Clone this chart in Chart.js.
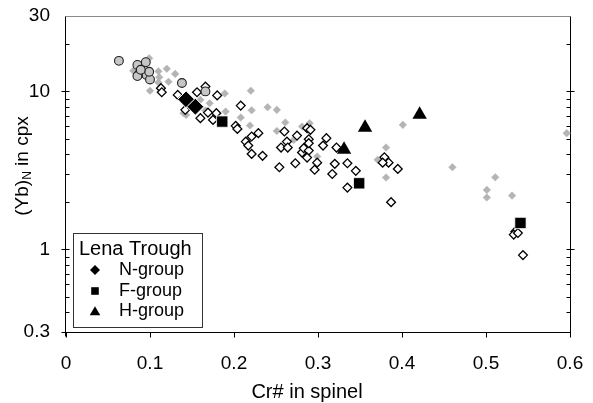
<!DOCTYPE html>
<html>
<head>
<meta charset="utf-8">
<script src="https://cdn.jsdelivr.net/npm/chart.js@4.4.1/dist/chart.umd.min.js"></script>
<style>
	html, body { margin: 0; padding: 0; background: #fff; }
	canvas { display: block; }
</style>
</head>
<body>
<canvas id="chart" width="593" height="403"></canvas>
<script>
// axis ticks
const xTicks = [0, 0.1, 0.2, 0.3, 0.4, 0.5, 0.6];
const xTickLabels = [`0`, `0.1`, `0.2`, `0.3`, `0.4`, `0.5`, `0.6`];
const yTicks = [0.3, 1, 10, 30];
const yTickLabels = [`0.3`, `1`, `10`, `30`];
const yMinorTicks = [0.4, 0.5, 0.6, 0.7, 0.8, 0.9, 2, 3, 4, 5, 6, 7, 8, 9, 20];

// other abyssal peridotites (small grey diamonds)
const greyX = [0.099, 0.080, 0.110, 0.120, 0.130, 0.111, 0.122, 0.110, 0.100, 0.155,
	0.189, 0.220, 0.221, 0.190, 0.166, 0.140, 0.208, 0.219, 0.240, 0.251,
	0.261, 0.251, 0.281, 0.290, 0.299, 0.401, 0.381, 0.371, 0.381, 0.143,
	0.460, 0.511, 0.501, 0.501, 0.531, 0.596, 0.160, 0.171, 0.271];
const greyY = [16.2, 13.5, 13.4, 13.9, 12.9, 12.3, 11.5, 11.4, 10.1, 9.9,
	9.7, 10.1, 7.6, 7.45, 7.56, 7.28, 6.83, 6.08, 7.94, 7.64,
	6.35, 5.62, 5.99, 6.29, 3.87, 6.14, 4.41, 3.69, 2.85, 7.10,
	3.31, 2.86, 2.38, 2.13, 2.19, 5.44, 8.84, 8.42, 4.93];

// open diamonds
const openX = [0.113, 0.114, 0.133, 0.142, 0.156, 0.166, 0.180, 0.169, 0.160, 0.175,
	0.179, 0.208, 0.202, 0.204, 0.214, 0.221, 0.229, 0.217, 0.221, 0.234,
	0.260, 0.275, 0.263, 0.256, 0.264, 0.254, 0.273, 0.281, 0.283, 0.289,
	0.287, 0.287, 0.291, 0.289, 0.289, 0.310, 0.306, 0.322, 0.299, 0.296,
	0.320, 0.317, 0.335, 0.345, 0.335, 0.379, 0.384, 0.377, 0.395, 0.387,
	0.535, 0.533, 0.538, 0.544];
const openY = [10.48, 9.88, 9.50, 7.64, 9.88, 10.72, 9.43, 7.34, 6.77, 6.60,
	7.28, 8.13, 6.05, 5.79, 4.81, 5.18, 5.44, 4.54, 4.02, 3.91,
	5.57, 5.25, 4.81, 4.41, 4.41, 3.31, 3.51, 4.10, 4.37, 4.22,
	3.81, 5.85, 5.71, 4.98, 4.70, 5.06, 4.54, 4.41, 3.54, 3.19,
	3.48, 3.00, 3.51, 3.14, 2.46, 3.83, 3.54, 3.54, 3.23, 1.99,
	1.30, 1.24, 1.27, 0.92];

// grey circles
const circleX = [0.063, 0.085, 0.095, 0.087, 0.096, 0.100, 0.085, 0.099, 0.138, 0.166, 0.089];
const circleY = [15.6, 14.7, 15.3, 12.9, 12.7, 11.9, 12.5, 13.3, 11.3, 10.0, 13.7];

// Lena Trough
const nGroupX = [0.143, 0.154];
const nGroupY = [8.9, 8.0];
const fGroupX = [0.186, 0.349, 0.541];
const fGroupY = [6.44, 2.62, 1.47];
const hGroupX = [0.331, 0.356, 0.421];
const hGroupY = [4.28, 5.9, 7.13];

const legendTitle = `Lena Trough`;
const legendLabels = [`N-group`, `F-group`, `H-group`];
const xTitle = `Cr# in spinel`;

const FONT = `"Liberation Sans", Arial, sans-serif`;
const toPoints = (xs, ys) => xs.map((x, i) => ({x: x, y: ys[i]}));

function symbolPath(ctx, style, x, y, r) {
	ctx.beginPath();
	if (style === `rectRot`) {
		ctx.moveTo(x - r, y); ctx.lineTo(x, y - r); ctx.lineTo(x + r, y); ctx.lineTo(x, y + r);
	} else if (style === `rect`) {
		ctx.rect(x - r, y - r, 2 * r, 2 * r);
	} else {
		ctx.moveTo(x, y - r); ctx.lineTo(x + r * 1.1, y + r * 0.9); ctx.lineTo(x - r * 1.1, y + r * 0.9);
	}
	ctx.closePath();
}

// no label overflow padding, the layout padding sets the plot box
function noOverflow(scale) {
	scale.paddingLeft = 0;
	scale.paddingRight = 0;
	scale.paddingTop = 0;
	scale.paddingBottom = 0;
}

const framePlugin = {
	id: `frame`,
	beforeDatasetsDraw(chart) {
		const {ctx} = chart;
		const xs = chart.scales.x, ys = chart.scales.y;
		const L = Math.round(xs.left) - 0.5, R = Math.round(xs.right) + 0.5;
		const T = Math.round(ys.top) + 0.5, B = Math.round(ys.bottom) + 0.5;
		ctx.save();
		ctx.lineWidth = 1;
		ctx.strokeStyle = `#8a8a8a`;
		ctx.beginPath(); ctx.moveTo(L, T); ctx.lineTo(R, T); ctx.stroke();
		ctx.strokeStyle = `#000`;
		ctx.beginPath();
		ctx.moveTo(L, T); ctx.lineTo(L, B + 4);
		ctx.moveTo(R, T); ctx.lineTo(R, B + 4);
		ctx.moveTo(L - 4, B); ctx.lineTo(R, B);
		xTicks.forEach(v => {
			const px = Math.round(xs.getPixelForValue(v)) + 0.5;
			ctx.moveTo(px, B); ctx.lineTo(px, B + 5);
		});
		[1, 10].forEach(v => {
			const py = Math.round(ys.getPixelForValue(v)) + 0.5;
			ctx.moveTo(L - 4, py); ctx.lineTo(L + 4, py);
			ctx.moveTo(R - 4, py); ctx.lineTo(R + 4, py);
		});
		yMinorTicks.forEach(v => {
			const py = Math.round(ys.getPixelForValue(v)) + 0.5;
			ctx.moveTo(L, py); ctx.lineTo(L + 4, py);
			ctx.moveTo(R - 4, py); ctx.lineTo(R, py);
		});
		ctx.stroke();
		ctx.restore();
	},
	afterDatasetsDraw(chart) {
		const {ctx} = chart;
		ctx.save();
		// legend box
		ctx.fillStyle = `#fff`;
		ctx.fillRect(73, 233, 129, 94);
		ctx.strokeStyle = `#333`;
		ctx.lineWidth = 1;
		ctx.strokeRect(73.5, 233.5, 129, 94);
		ctx.fillStyle = `#000`;
		ctx.textBaseline = `middle`;
		ctx.textAlign = `left`;
		ctx.font = `20px ${FONT}`;
		ctx.fillText(legendTitle, 79, 249);
		ctx.font = `18px ${FONT}`;
		const styles = [[`rectRot`, 5], [`rect`, 3.8], [`triangle`, 4.8]];
		[270, 291, 311].forEach((y, i) => {
			symbolPath(ctx, styles[i][0], 95, y, styles[i][1]);
			ctx.fill();
			ctx.fillText(legendLabels[i], 119, y);
		});
		// x title
		ctx.font = `20px ${FONT}`;
		ctx.textAlign = `center`;
		ctx.fillText(xTitle, 307, 392);
		// y title with subscript N
		ctx.translate(28, 166);
		ctx.rotate(-Math.PI / 2);
		ctx.textAlign = `left`;
		ctx.textBaseline = `alphabetic`;
		const big = `19px ${FONT}`, small = `12px ${FONT}`;
		ctx.font = big; const w1 = ctx.measureText(`(Yb)`).width; const w3 = ctx.measureText(` in cpx`).width;
		ctx.font = small; const w2 = ctx.measureText(`N`).width;
		let u = -(w1 + w2 + w3) / 2;
		ctx.font = big; ctx.fillText(`(Yb)`, u, 0); u += w1;
		ctx.font = small; ctx.fillText(`N`, u, 3); u += w2;
		ctx.font = big; ctx.fillText(` in cpx`, u, 0);
		ctx.restore();
	}
};

new Chart(document.getElementById(`chart`), {
	type: `scatter`,
	data: {
		datasets: [
			{
				label: `Abyssal`,
				data: toPoints(greyX, greyY),
				pointStyle: `rectRot`,
				radius: 3.8,
				backgroundColor: `#b4b4b4`,
				borderColor: `#b4b4b4`,
				borderWidth: 0.5,
				order: 6
			},
			{
				label: `Open`,
				data: toPoints(openX, openY),
				pointStyle: `rectRot`,
				radius: 4.4,
				backgroundColor: `#fff`,
				borderColor: `#000`,
				borderWidth: 1.3,
				order: 5
			},
			{
				label: `Circles`,
				data: toPoints(circleX, circleY),
				pointStyle: `circle`,
				radius: 4.4,
				backgroundColor: `#c6c6c6`,
				borderColor: `#222`,
				borderWidth: 1.1,
				order: 4
			},
			{
				label: `N-group`,
				data: toPoints(nGroupX, nGroupY),
				pointStyle: `rectRot`,
				radius: 8.5,
				backgroundColor: `#000`,
				borderColor: `#fff`,
				borderWidth: 1,
				order: 3
			},
			{
				label: `F-group`,
				data: toPoints(fGroupX, fGroupY),
				pointStyle: `rect`,
				radius: 8,
				backgroundColor: `#000`,
				borderColor: `#fff`,
				borderWidth: 0.8,
				order: 2
			},
			{
				label: `H-group`,
				data: toPoints(hGroupX, hGroupY),
				pointStyle: `triangle`,
				radius: 8.3,
				backgroundColor: `#000`,
				borderColor: `#000`,
				borderWidth: 0,
				order: 1
			}
		]
	},
	options: {
		responsive: false,
		animation: false,
		clip: false,
		layout: {padding: {left: 0, right: 23, top: 16, bottom: 0}},
		scales: {
			x: {
				type: `linear`,
				min: 0,
				max: 0.6,
				afterBuildTicks: scale => { scale.ticks = xTicks.map(v => ({value: v})); },
				afterFit: scale => { scale.height = 71; noOverflow(scale); },
				grid: {display: false, drawTicks: false},
				border: {display: false},
				ticks: {
					callback: v => xTickLabels[xTicks.indexOf(v)],
					padding: 20,
					color: `#000`,
					maxRotation: 0,
					autoSkip: false,
					font: {family: FONT, size: 19}
				}
			},
			y: {
				type: `logarithmic`,
				min: 0.3,
				max: 30,
				afterBuildTicks: scale => { scale.ticks = yTicks.map(v => ({value: v})); },
				afterFit: scale => { scale.width = 66; noOverflow(scale); },
				grid: {display: false, drawTicks: false},
				border: {display: false},
				ticks: {
					callback: v => yTickLabels[yTicks.indexOf(v)],
					padding: 16,
					color: `#000`,
					autoSkip: false,
					font: {family: FONT, size: 19}
				}
			}
		},
		plugins: {
			legend: {display: false},
			tooltip: {enabled: false}
		}
	},
	plugins: [framePlugin]
});
</script>
</body>
</html>
